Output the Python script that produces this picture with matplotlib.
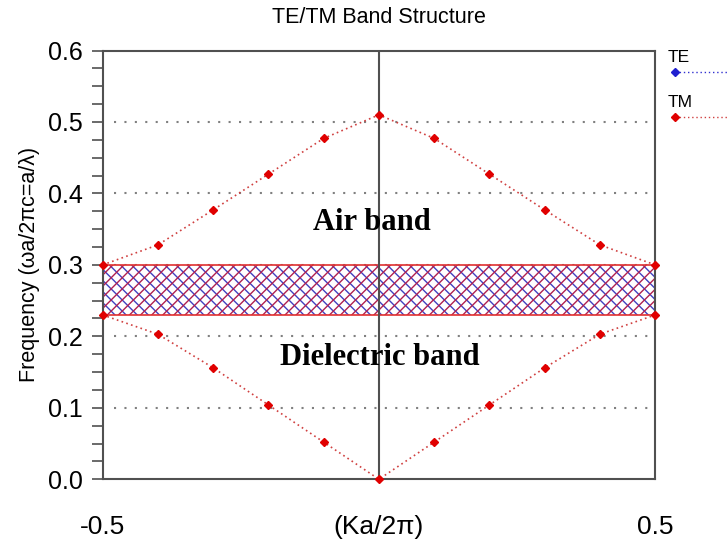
import numpy as np
import matplotlib
matplotlib.use("Agg")
import matplotlib.pyplot as plt
from matplotlib.lines import Line2D

plt.rcParams["font.family"] = ["Liberation Sans", "DejaVu Sans"]
plt.rcParams["hatch.linewidth"] = 1.0

# wave vector (Ka/2pi) and TM band frequencies
k = [-0.5, -0.4, -0.3, -0.2, -0.1, 0.0, 0.1, 0.2, 0.3, 0.4, 0.5]
dielectric_band = [0.23, 0.203, 0.156, 0.104, 0.052, 0.0, 0.052, 0.104, 0.156, 0.203, 0.23]
air_band = [0.30, 0.328, 0.377, 0.427, 0.477, 0.51, 0.477, 0.427, 0.377, 0.328, 0.30]
gap = [0.23, 0.30]

yticks = [0.0, 0.1, 0.2, 0.3, 0.4, 0.5, 0.6]
xticks = [-0.5, 0.0, 0.5]
xticklabels = ["-0.5", "(Ka/2\u03c0)", "0.5"]

fig = plt.figure(figsize=(7.28, 5.49), dpi=100)
ax = fig.add_axes([0.141, 0.127, 0.759, 0.781])

# dotted grid lines
for y in yticks[1:-1]:
    ax.plot([-0.48, 0.5], [y, y], color="#808080", lw=1.5,
            linestyle=(0, (1, 4)), zorder=1)

# band gap (hatched)
ax.fill_between([-0.5, 0.5], gap[0], gap[1], facecolor="white",
                edgecolor="#4040c0", hatch="\\\\\\", lw=0, zorder=2)
ax.fill_between([-0.5, 0.5], gap[0], gap[1], facecolor="none",
                edgecolor="#b02050", hatch="///", lw=0, zorder=2)
ax.plot([-0.5, 0.5], [gap[0], gap[0]], color="#e03030", lw=1.2, zorder=3)
ax.plot([-0.5, 0.5], [gap[1], gap[1]], color="#e03030", lw=1.2, zorder=3)

# center line at k = 0
ax.axvline(0, color="#505050", lw=1.5, zorder=4)

# TM bands
for band in (dielectric_band, air_band):
    ax.plot(k, band, color="#d04040", lw=1.2, linestyle=(0, (1, 2)),
            marker="D", markersize=4.5, markerfacecolor="#e00000",
            markeredgecolor="#e00000", zorder=5, clip_on=False)

ax.text(-0.013, 0.36, "Air band", fontsize=22, fontweight="bold",
        family="Liberation Serif", ha="center", va="center", zorder=6)
ax.text(0.002, 0.17, "Dielectric band", fontsize=22, fontweight="bold",
        family="Liberation Serif", ha="center", va="center", zorder=6)

ax.set_xlim(-0.5, 0.5)
ax.set_ylim(0, 0.6)
ax.set_yticks(yticks)
ax.set_yticklabels(["%.1f" % v for v in yticks])
ax.set_yticks(np.arange(0, 0.6001, 0.025), minor=True)
ax.set_xticks(xticks)
ax.set_xticklabels(xticklabels)
ax.tick_params(axis="y", which="both", direction="out", length=8,
               width=1.2, color="#505050", labelsize=18, pad=6)
ax.tick_params(axis="x", length=0, labelsize=19, pad=26)
for s in ax.spines.values():
    s.set_color("#505050")
    s.set_linewidth(1.5)

ax.set_ylabel("Frequency (\u03c9a/2\u03c0c=a/\u03bb)", fontsize=15.5, labelpad=6)
fig.text(0.52, 0.968, "TE/TM Band Structure", fontsize=15.5,
         ha="center", va="center")

# legend at the right edge
fig.text(0.917, 0.895, "TE", fontsize=12.5, ha="left", va="center")
fig.add_artist(Line2D([0.927, 1.0], [0.869, 0.869], transform=fig.transFigure,
                      color="#3030d0", lw=1.0, linestyle=(0, (1, 2))))
fig.add_artist(Line2D([0.927], [0.869], transform=fig.transFigure,
                      marker="D", markersize=4, color="#2020d0"))
fig.text(0.917, 0.813, "TM", fontsize=12.5, ha="left", va="center")
fig.add_artist(Line2D([0.927, 1.0], [0.787, 0.787], transform=fig.transFigure,
                      color="#d04040", lw=1.0, linestyle=(0, (1, 2))))
fig.add_artist(Line2D([0.927], [0.787], transform=fig.transFigure,
                      marker="D", markersize=4, color="#e00000"))

fig.savefig("out.png", dpi=100)
